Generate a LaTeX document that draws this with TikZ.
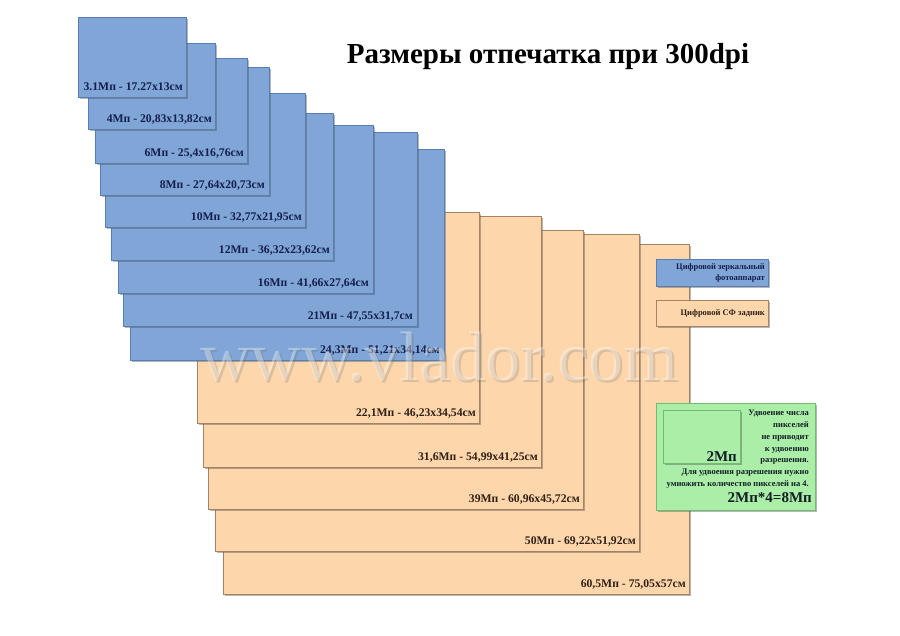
\documentclass[tikz,border=0pt]{standalone}
\usepackage{fontspec}
\setmainfont{Liberation Serif}
\usetikzlibrary{shadows}
\definecolor{bfill}{RGB}{127,166,214}
\definecolor{bedge}{RGB}{88,126,180}
\definecolor{ofill}{RGB}{253,214,172}
\definecolor{oedge}{RGB}{165,130,98}
\definecolor{gfill}{RGB}{170,238,168}
\definecolor{gedge}{RGB}{112,188,112}
\definecolor{btext}{RGB}{22,30,78}
\definecolor{otext}{RGB}{48,32,22}
\definecolor{gtext}{RGB}{18,30,36}
\tikzset{
  shadowed/.style={drop shadow={shadow xshift=1.6pt, shadow yshift=-1.6pt, opacity=0.4, fill=black!70}},
  bluebox/.style={fill=bfill, draw=bedge, line width=0.5pt, shadowed},
  orangebox/.style={fill=ofill, draw=oedge, line width=0.5pt, shadowed},
  greenbox/.style={fill=gfill, draw=gedge, line width=0.5pt, shadowed},
  blbl/.style={anchor=base east, inner sep=0pt, font=\bfseries\fontsize{11.7}{13}\selectfont, text=btext},
  olbl/.style={anchor=base east, inner sep=0pt, font=\bfseries\fontsize{11.7}{13}\selectfont, text=otext},
  legtext/.style={anchor=east, inner sep=0pt, align=right, font=\bfseries\fontsize{8.5}{11.5}\selectfont},
  wmark/.style={anchor=base west, inner sep=0pt, font=\fontsize{70}{70}\selectfont},
}
\begin{document}
\begin{tikzpicture}[x=1pt,y=-1pt]
\useasboundingbox (0,0) rectangle (900,635);
\fill[white] (0,0) rectangle (900,635);

% orange (large) prints, back to front
\path[orangebox] (223,244) rectangle (689,594);
\node[olbl] (lE) at (686,587) {60,5Мп - 75,05x57см};
\path[orangebox] (215,234) rectangle (639,551);
\node[olbl] (lD) at (636,544) {50Мп - 69,22x51,92см};
\path[orangebox] (208,230) rectangle (583,509);
\node[olbl] (lC) at (580,502) {39Мп - 60,96x45,72см};
\path[orangebox] (203,216) rectangle (541,467);
\node[olbl] (lB) at (538,460) {31,6Мп - 54,99x41,25см};
\path[orangebox] (197,212) rectangle (479,423);
\node[olbl] (lA) at (476,416) {22,1Мп - 46,23x34,54см};

% blue prints, back to front
\path[bluebox] (130,149) rectangle (444,360);
\node[blbl] (l9) at (440,353) {24,3Мп - 51,21x34,14см};
\path[bluebox] (123,132) rectangle (417,326);
\node[blbl] (l8) at (413,319) {21Мп - 47,55x31,7см};
\path[bluebox] (118,125) rectangle (373,293);
\node[blbl] (l7) at (369,286) {16Мп - 41,66x27,64см};
\path[bluebox] (111,113) rectangle (333,260);
\node[blbl] (l6) at (330,253) {12Мп - 36,32x23,62см};
\path[bluebox] (105,93) rectangle (305,227);
\node[blbl] (l5) at (302,220) {10Мп - 32,77x21,95см};
\path[bluebox] (100,67) rectangle (269,195);
\node[blbl] (l4) at (265,188) {8Мп - 27,64x20,73см};
\path[bluebox] (95,58) rectangle (247,163);
\node[blbl] (l3) at (244,156) {6Мп - 25,4x16,76см};
\path[bluebox] (88,43) rectangle (215,129);
\node[blbl] (l2) at (212,122) {4Мп - 20,83x13,82см};
\path[bluebox] (78,17) rectangle (186,97);
\node[blbl] (l1) at (183,90) {3.1Мп - 17.27x13см};

% legend
\path[bluebox] (656,259) rectangle (768,286);
\node[legtext, text=btext] (legb) at (765,273) {Цифровой зеркальный\\фотоаппарат};
\path[orangebox] (656,300) rectangle (768,326);
\node[legtext, text=otext] (lego) at (765,313) {Цифровой СФ задник};

% green explanation box
\path[greenbox] (656,403) rectangle (815,510);
\path[greenbox] (663,410) rectangle (740,463);
\node[anchor=base east, inner sep=0pt, font=\bfseries\fontsize{15}{16}\selectfont, text=gtext] (two) at (737,461) {2Мп};
\node[anchor=north east, inner sep=0pt, align=right, font=\bfseries\fontsize{8.5}{11.8}\selectfont, text=gtext] (gtxt) at (809,410)
  {Удвоение числа\\пикселей\\не приводит\\к удвоению\\разрешения.\\Для удвоения разрешения нужно\\умножить количество пикселей на 4.};
\node[anchor=base east, inner sep=0pt, font=\bfseries\fontsize{15}{16}\selectfont, text=gtext] (formula) at (812,502) {2Мп*4=8Мп};

% watermark (embossed look)
\node[wmark, text=black!60, opacity=0.22] (wmshadow) at (202,382) {www.vlador.com};
\node[wmark, text=white, opacity=0.35] (wm) at (200,380) {www.vlador.com};

% title
\node[anchor=base, inner sep=0pt, font=\bfseries\fontsize{29}{32}\selectfont] (title) at (548,63) {Размеры отпечатка при 300dpi};
\end{tikzpicture}
\end{document}
